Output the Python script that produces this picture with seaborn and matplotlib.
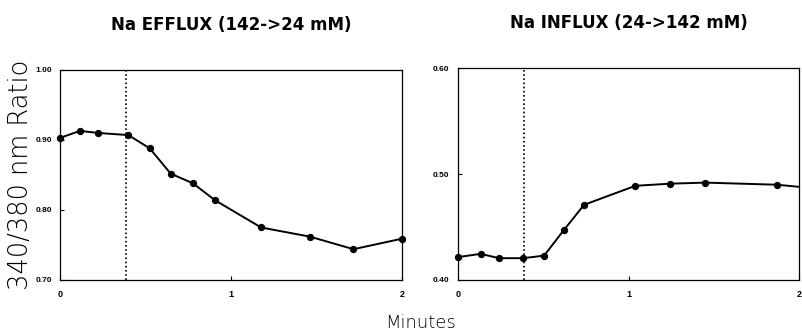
import numpy as np
import pandas as pd
import matplotlib
matplotlib.use("Agg")
import matplotlib.pyplot as plt
import seaborn as sns

# Na efflux (142 -> 24 mM)
eff_min = [0.0, 0.117, 0.225, 0.40, 0.525, 0.647, 0.778, 0.906, 1.176, 1.46, 1.716, 2.0]
eff_ratio = [0.903, 0.913, 0.910, 0.907, 0.888, 0.852, 0.838, 0.814, 0.775, 0.762, 0.744, 0.759]

# Na influx (24 -> 142 mM); last entry is where the trace leaves the frame
inf_min = [0.0, 0.133, 0.241, 0.382, 0.505, 0.620, 0.739, 1.04, 1.245, 1.45, 1.87, 2.0]
inf_ratio = [0.4216, 0.4247, 0.4206, 0.4206, 0.423, 0.447, 0.471, 0.489, 0.491, 0.492, 0.490, 0.488]
inf_marked = list(range(11))

switch_min = 0.385

titles = ["Na EFFLUX (142->24 mM)", "Na INFLUX (24->142 mM)"]
eff_yticks = [0.70, 0.80, 0.90, 1.00]
inf_yticks = [0.40, 0.50, 0.60]
xticks = [0, 1, 2]

sns.set_style("ticks")
plt.rcParams["font.family"] = ["Liberation Sans", "DejaVu Sans"]
plt.rcParams["text.color"] = "black"
plt.rcParams["xtick.color"] = "black"
plt.rcParams["ytick.color"] = "black"

fig = plt.figure(figsize=(8.02, 3.36), dpi=100)
ax1 = fig.add_axes([0.0748, 0.1667, 0.4265, 0.625])
ax2 = fig.add_axes([0.571, 0.1667, 0.4255, 0.630])

df_eff = pd.DataFrame({"min": eff_min, "ratio": eff_ratio})
df_inf = pd.DataFrame({"min": inf_min, "ratio": inf_ratio})

sns.lineplot(data=df_eff, x="min", y="ratio", ax=ax1, color="black", lw=1.4,
             marker="o", markersize=4.5, markeredgecolor="black", clip_on=False)
sns.lineplot(data=df_inf, x="min", y="ratio", ax=ax2, color="black", lw=1.4,
             marker="o", markersize=4.5, markeredgecolor="black",
             markevery=inf_marked, clip_on=False)

for ax, yt, title in [(ax1, eff_yticks, titles[0]), (ax2, inf_yticks, titles[1])]:
    ax.axvline(switch_min, color="black", ls=(0, (1, 1.5)), lw=1.2)
    ax.set_xlim(0, 2)
    ax.set_ylim(yt[0], yt[-1])
    ax.set_xticks(xticks)
    ax.set_xticklabels([str(t) for t in xticks], fontsize=6.5, fontweight="bold")
    ax.set_yticks(yt)
    ax.set_yticklabels([f"{t:.2f}" for t in yt], fontsize=6, fontweight="bold")
    ax.tick_params(direction="in", length=3, width=0.8, pad=6)
    ax.tick_params(axis="x", pad=7)
    for s in ax.spines.values():
        s.set_visible(True)
        s.set_linewidth(0.9)
        s.set_color("black")
    ax.set_xlabel("")
    ax.set_ylabel("")
    ax.set_title(title, fontsize=12, fontweight="bold", family="DejaVu Sans", pad=29)

fig.text(0.025, 0.479, "340/380 nm Ratio", rotation=90, ha="center", va="center",
         fontsize=18.5, family="DejaVu Sans", fontweight="light", color="black")
fig.text(0.524, 0.04, "Minutes", ha="center", va="center",
         fontsize=13, family="DejaVu Sans", fontweight="light", color="black")

fig.savefig("out.png", dpi=100)
